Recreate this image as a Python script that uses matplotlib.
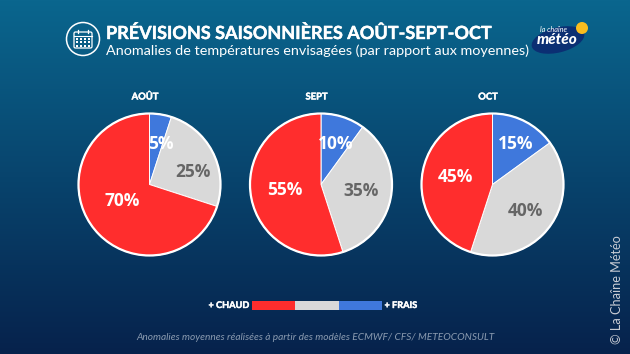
import matplotlib
matplotlib.use('Agg')
import matplotlib.pyplot as plt
import matplotlib.patheffects as pe
from matplotlib.patches import Circle, Ellipse, FancyBboxPatch
import numpy as np

months = ['AOÛT', 'SEPT', 'OCT']
frais = [5, 10, 15]
normal = [25, 35, 40]
chaud = [70, 55, 45]
title = 'PRÉVISIONS SAISONNIÈRES AOÛT-SEPT-OCT'
subtitle = 'Anomalies de températures envisagées (par rapport aux moyennes)'
footer = 'Anomalies moyennes réalisées à partir des modèles ECMWF/ CFS/ METEOCONSULT'
credit = '© La Chaîne Météo'

W, H = 630, 354
BLUE, GREY, RED = '#3f78dc', '#d9d9d9', '#ff2d2d'
centers = [149.5, 321, 492.5]
cy, radius = 184.5, 71
# label spots in px, same order as the wedges (frais, normal, chaud)
label_pos = [[(161, 144), (193, 172), (122, 201)],
             [(336, 144), (361, 191), (285, 190)],
             [(516, 144), (525, 211), (455, 177)]]

plt.rcParams['font.family'] = ['Lato', 'DejaVu Sans']
fig = plt.figure(figsize=(W / 100, H / 100), dpi=100)
ax = fig.add_axes([0, 0, 1, 1])
ax.set_xlim(0, W)
ax.set_ylim(H, 0)
ax.axis('off')

# background gradient
top = np.array([0x0a, 0x66, 0x8e]) / 255
bottom = np.array([0x06, 0x22, 0x4c]) / 255
t = np.linspace(0, 1, 256)[:, None, None]
grad = top * (1 - t) + bottom * t
ax.imshow(grad, extent=[0, W, H, 0], aspect='auto', zorder=0)

ax.text(106, 33, title, color='white', fontsize=13.0, fontweight='bold', va='center', ha='left', zorder=3,
        path_effects=[pe.withStroke(linewidth=0.3, foreground='white')])
ax.text(106, 51, subtitle, color='white', fontsize=10.4, va='center', ha='left', zorder=3)

# calendar icon
ax.add_patch(Circle((83, 39), 16.5, fc='none', ec='white', lw=1.1, zorder=3))
ax.add_patch(FancyBboxPatch((74, 32), 18, 16, boxstyle='round,pad=0,rounding_size=1.5', fc='none', ec='white', lw=0.9, zorder=3))
ax.plot([74, 92], [35.5, 35.5], color='white', lw=0.8, zorder=3)
ax.plot([78, 78], [30, 33], color='white', lw=0.9, zorder=3)
ax.plot([88, 88], [30, 33], color='white', lw=0.9, zorder=3)
gx, gy = np.meshgrid(np.linspace(77, 89, 4), np.linspace(38.5, 45.5, 3))
ax.scatter(gx.ravel(), gy.ravel(), s=2.5, marker='s', color='white', lw=0, zorder=3)

# logo
ax.add_patch(Ellipse((558, 40), 54, 25, angle=-14, fc='#0b2f73', ec='none', zorder=2))
ax.add_patch(Circle((582, 28), 6, fc='#f9bd1f', ec='none', zorder=3))
ax.text(554, 29.5, 'la chaîne', color='white', fontsize=5.2, style='italic', ha='center', va='center', zorder=4)
ax.text(557, 40.5, 'météo', color='white', fontsize=11, style='italic', fontweight='black', ha='center', va='center', zorder=4)

# pies
for i, month in enumerate(months):
    cx = centers[i]
    ax.text(cx - 4.5, 97, month, color='white', fontsize=6.8, fontweight='bold', ha='center', va='center', zorder=3,
            path_effects=[pe.withStroke(linewidth=0.3, foreground='white')])
    box = radius * 1.03
    pie_ax = fig.add_axes([(cx - box) / W, 1 - (cy + box) / H, 2 * box / W, 2 * box / H])
    vals = [frais[i], normal[i], chaud[i]]
    pie_ax.pie(vals, colors=[BLUE, GREY, RED], startangle=90, counterclock=False, radius=1,
               wedgeprops={'edgecolor': 'white', 'linewidth': 0.7})
    pie_ax.add_patch(Circle((0, 0), 1, fc='none', ec='white', lw=1.6))
    pie_ax.set_xlim(-1.03, 1.03)
    pie_ax.set_ylim(-1.03, 1.03)
    cols = ['white', '#666666', 'white']
    for val, pos, c in zip(vals, label_pos[i], cols):
        pie_ax.text((pos[0] - cx) / radius, (cy - pos[1]) / radius, f'{val}%', color=c, fontsize=12.5,
                    family='Open Sans', fontweight='bold', ha='center', va='center')

# legend bar
ax.barh(305.5, 43.5, left=251.5, height=8.5, color=RED, zorder=3)
ax.barh(305.5, 43.5, left=295, height=8.5, color=GREY, zorder=3)
ax.barh(305.5, 43.5, left=338.5, height=8.5, color=BLUE, zorder=3)
ax.text(249, 305.5, '+ CHAUD', color='white', fontsize=6.6, fontweight='bold', ha='right', va='center', zorder=3,
        path_effects=[pe.withStroke(linewidth=0.3, foreground='white')])
ax.text(384.5, 305.5, '+ FRAIS', color='white', fontsize=6.6, fontweight='bold', ha='left', va='center', zorder=3,
        path_effects=[pe.withStroke(linewidth=0.3, foreground='white')])

ax.text(136, 337.5, footer, color='#8a9bb0', fontsize=7.33, style='italic', ha='left', va='center', zorder=3)
ax.text(617, 344, credit, color='#c8ccd4', fontsize=9.2, rotation=90, ha='center', va='bottom', zorder=3)

fig.savefig('out.png', dpi=100)
